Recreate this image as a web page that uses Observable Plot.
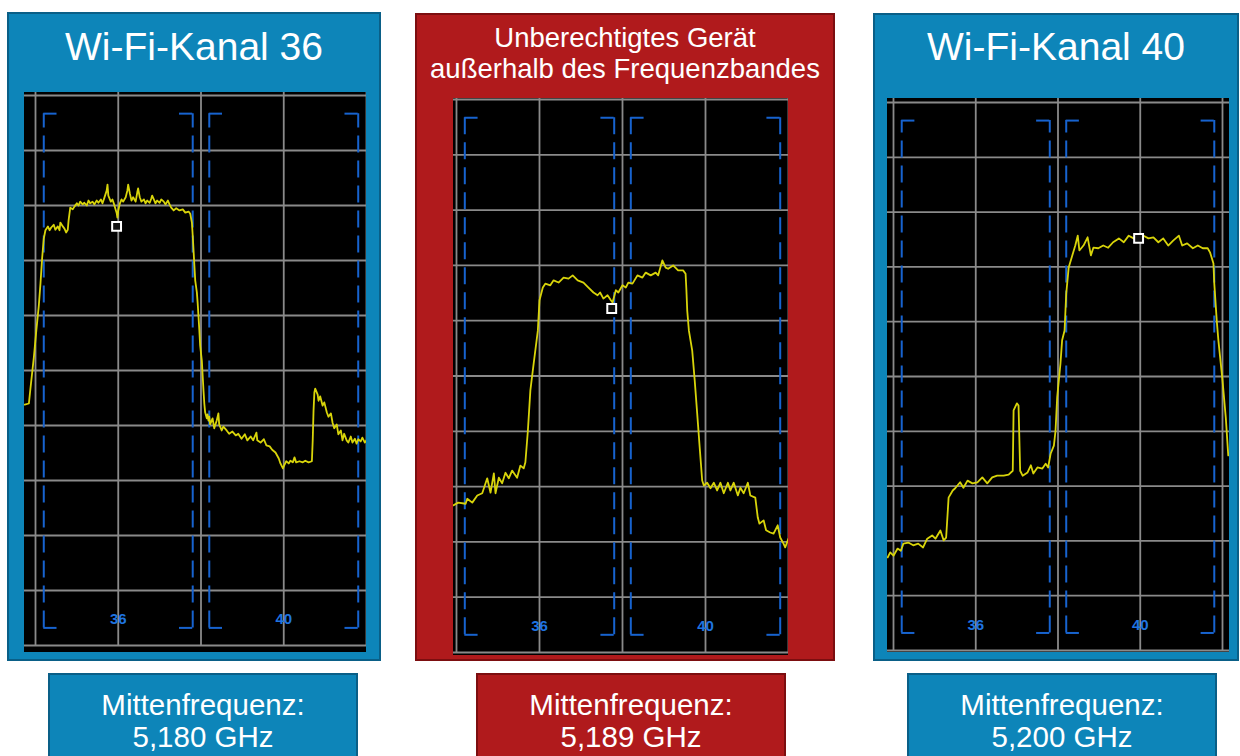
<!DOCTYPE html>
<html><head><meta charset="utf-8">
<script src="https://cdn.jsdelivr.net/npm/d3@7"></script>
<script src="https://cdn.jsdelivr.net/npm/@observablehq/plot@0.6"></script>
<style>
body{margin:0;background:#fff;width:1240px;height:756px;overflow:hidden;position:relative;font-family:"Liberation Sans",Arial,sans-serif;}
.box{position:absolute;box-sizing:border-box;}
.blue{background:#0d85b9;border:2px solid #0a5f87;}
.red{background:#b01a1c;border:2px solid #7c0e10;}
.txt{position:absolute;color:#fff;text-align:center;white-space:nowrap;}
.chart{position:absolute;}
.chart svg{display:block;}
</style></head><body>
<div class="box blue" style="left:7px;top:12px;width:374px;height:649px"></div>
<div class="box red" style="left:415px;top:13px;width:420px;height:648px"></div>
<div class="box blue" style="left:873px;top:13px;width:366px;height:648px"></div>
<div class="box blue" style="left:48px;top:673px;width:310px;height:95px"></div>
<div class="box red" style="left:476px;top:673px;width:310px;height:95px"></div>
<div class="box blue" style="left:907px;top:673px;width:310px;height:95px"></div>

<div class="txt" style="left:7px;width:374px;top:27px;font-size:39px;line-height:39px">Wi-Fi-Kanal 36</div>
<div class="txt" style="left:415px;width:420px;top:22px;font-size:27.5px;line-height:31px">Unberechtigtes Gerät<br>außerhalb des Frequenzbandes</div>
<div class="txt" style="left:873px;width:366px;top:27px;font-size:39px;line-height:39px">Wi-Fi-Kanal 40</div>
<div class="txt" style="left:48px;width:310px;top:689px;font-size:29.5px;line-height:32px">Mittenfrequenz:<br>5,180 GHz</div>
<div class="txt" style="left:476px;width:310px;top:689px;font-size:29.5px;line-height:32px">Mittenfrequenz:<br>5,189 GHz</div>
<div class="txt" style="left:907px;width:310px;top:689px;font-size:29.5px;line-height:32px">Mittenfrequenz:<br>5,200 GHz</div>

<div id="c1" class="chart" style="left:24px;top:92px"></div>
<div id="c2" class="chart" style="left:453px;top:98px"></div>
<div id="c3" class="chart" style="left:887px;top:98px"></div>

<script>
// Frequency grid (MHz) and level grid (dBm, 10 dB/div)
const freqTicks = [5170, 5180, 5190, 5200, 5210];
const levelTicks = [-20, -30, -40, -50, -60, -70, -80, -90, -100, -110, -120];
// Wi-Fi channels shown in each display
const channelNames = ["36", "40"];
const channelCenters = [5180, 5200];
const channelHalfWidth = 9;

// Spectrum traces [frequency MHz, level dBm]
const spec36 = [
[5168.7,-76.2],[5169.2,-76.0],[5169.4,-73.1],[5169.8,-67.6],[5170.1,-62.7],[5170.4,-58.2],[5170.6,-54.2],[5170.8,-49.6],[5171.0,-46.0],[5171.2,-44.5],
[5171.5,-43.8],[5171.7,-44.5],[5171.9,-44.0],[5172.2,-43.5],[5172.4,-44.4],[5172.7,-43.8],[5172.9,-44.5],[5173.0,-43.1],[5173.3,-43.8],[5173.5,-44.2],
[5173.7,-44.9],[5173.9,-44.4],[5174.0,-42.7],[5174.2,-40.4],[5174.5,-40.7],[5174.7,-40.2],[5175.0,-39.6],[5175.2,-40.0],[5175.4,-39.3],[5175.7,-39.8],
[5175.9,-39.5],[5176.2,-40.0],[5176.4,-39.1],[5176.6,-39.6],[5176.9,-39.3],[5177.1,-39.8],[5177.4,-39.1],[5177.6,-39.5],[5177.9,-38.9],[5178.1,-39.6],
[5178.3,-38.7],[5178.6,-37.3],[5178.7,-36.2],[5178.8,-38.2],[5179.1,-39.3],[5179.3,-38.9],[5179.5,-39.8],[5179.8,-41.3],[5179.9,-42.2],[5180.0,-40.9],
[5180.2,-39.6],[5180.4,-38.9],[5180.6,-39.3],[5180.9,-38.5],[5181.1,-37.3],[5181.2,-36.2],[5181.4,-37.8],[5181.6,-39.1],[5181.8,-38.5],[5182.1,-39.3],
[5182.3,-37.6],[5182.4,-36.9],[5182.6,-38.5],[5182.8,-39.3],[5183.1,-38.9],[5183.3,-39.6],[5183.5,-39.1],[5183.8,-39.5],[5184.0,-38.7],[5184.1,-38.2],
[5184.3,-38.9],[5184.5,-39.6],[5184.7,-39.1],[5185.0,-39.5],[5185.2,-38.9],[5185.5,-39.3],[5185.7,-39.8],[5186.0,-39.1],[5186.2,-39.8],[5186.4,-40.4],
[5186.7,-40.9],[5187.0,-40.5],[5187.4,-40.9],[5187.8,-40.7],[5188.1,-41.3],[5188.5,-41.1],[5188.7,-41.5],[5188.9,-43.1],[5189.0,-45.5],[5189.1,-48.2],
[5189.2,-50.9],[5189.3,-53.6],[5189.5,-55.8],[5189.6,-57.8],[5189.7,-60.2],[5189.8,-62.7],[5189.9,-65.5],[5190.1,-68.2],[5190.2,-70.9],[5190.3,-73.6],
[5190.4,-76.0],[5190.5,-77.6],[5190.7,-78.7],[5190.8,-78.0],[5190.9,-79.1],[5191.0,-78.4],[5191.1,-79.8],[5191.4,-78.7],[5191.6,-80.5],[5191.9,-79.1],
[5192.1,-77.8],[5192.2,-79.8],[5192.5,-80.9],[5192.7,-80.2],[5193.1,-80.9],[5193.4,-81.5],[5193.8,-81.1],[5194.2,-81.8],[5194.5,-81.5],[5194.9,-82.4],
[5195.3,-81.6],[5195.6,-82.7],[5196.0,-82.0],[5196.3,-82.7],[5196.7,-81.3],[5196.8,-82.7],[5197.2,-83.1],[5197.6,-82.5],[5197.9,-83.6],[5198.3,-83.8],
[5198.6,-84.4],[5199.0,-84.9],[5199.4,-86.0],[5199.6,-86.9],[5199.9,-87.8],[5200.1,-87.1],[5200.3,-86.5],[5200.6,-86.9],[5200.8,-86.4],[5201.1,-86.7],
[5201.3,-85.8],[5201.5,-86.7],[5201.9,-86.5],[5202.3,-86.7],[5202.6,-86.4],[5203.0,-86.7],[5203.4,-86.5],[5203.5,-82.7],[5203.6,-77.3],[5203.7,-74.0],
[5203.8,-73.3],[5204.1,-74.4],[5204.2,-75.5],[5204.4,-74.7],[5204.7,-76.4],[5204.9,-75.8],[5205.2,-77.6],[5205.4,-78.4],[5205.7,-77.8],[5205.9,-79.5],
[5206.1,-80.5],[5206.4,-79.8],[5206.6,-81.6],[5206.9,-80.9],[5207.1,-82.7],[5207.3,-81.5],[5207.6,-82.7],[5207.8,-83.1],[5208.1,-82.0],[5208.3,-83.1],
[5208.6,-82.4],[5208.8,-83.3],[5209.0,-82.5],[5209.3,-82.9],[5209.5,-82.2],[5209.8,-83.1],[5210.0,-82.7]
];
const specRogue = [
[5169.6,-93.4],[5170.2,-92.9],[5171.1,-93.1],[5171.3,-92.2],[5171.9,-92.9],[5172.5,-91.6],[5173.1,-91.2],[5173.7,-88.5],[5174.1,-91.1],[5174.5,-87.6],
[5174.7,-91.2],[5175.1,-88.4],[5175.5,-89.4],[5175.9,-87.5],[5176.3,-88.5],[5176.7,-87.1],[5177.3,-88.4],[5177.7,-86.2],[5178.1,-86.7],[5178.3,-85.6],
[5178.6,-79.9],[5178.9,-72.6],[5179.3,-67.7],[5179.8,-61.8],[5180.0,-56.3],[5180.4,-54.0],[5180.7,-53.3],[5181.3,-53.6],[5181.7,-52.7],[5182.3,-53.1],
[5182.9,-52.2],[5183.5,-52.4],[5184.0,-51.8],[5184.6,-52.7],[5185.3,-53.1],[5185.9,-54.0],[5186.5,-54.9],[5187.0,-55.4],[5187.3,-54.9],[5187.7,-56.0],
[5188.2,-55.4],[5188.6,-56.3],[5188.8,-56.7],[5189.2,-54.5],[5189.5,-54.9],[5190.0,-53.6],[5190.4,-54.0],[5190.7,-53.1],[5191.2,-53.3],[5191.8,-51.8],
[5192.4,-52.2],[5192.8,-51.3],[5193.4,-51.8],[5194.0,-51.3],[5194.3,-51.8],[5194.8,-49.1],[5195.2,-50.4],[5195.5,-50.6],[5196.1,-50.0],[5196.7,-50.9],
[5197.3,-50.9],[5197.6,-51.5],[5197.7,-54.5],[5197.8,-58.2],[5198.0,-61.8],[5198.4,-65.4],[5198.7,-70.8],[5199.0,-76.8],[5199.3,-82.9],[5199.6,-88.9],
[5199.8,-89.8],[5200.2,-89.3],[5200.6,-90.3],[5201.0,-89.3],[5201.4,-90.7],[5201.8,-89.3],[5202.2,-91.2],[5202.7,-89.3],[5203.0,-90.7],[5203.4,-89.3],
[5203.9,-91.6],[5204.2,-90.2],[5204.6,-91.2],[5205.1,-89.3],[5205.4,-91.6],[5206.0,-92.0],[5206.3,-95.6],[5206.5,-96.7],[5207.0,-96.1],[5207.3,-97.9],
[5207.8,-98.3],[5208.2,-98.5],[5208.7,-97.0],[5209.0,-99.2],[5209.4,-100.3],[5209.6,-101.0],[5210.0,-99.4]
];
const spec40 = [
[5169.3,-103.0],[5169.6,-102.1],[5170.0,-102.7],[5170.5,-101.4],[5170.9,-101.8],[5171.2,-100.5],[5171.8,-100.3],[5172.4,-100.8],[5173.0,-100.5],[5173.6,-101.2],
[5174.1,-99.6],[5174.7,-99.0],[5175.1,-99.6],[5175.7,-98.1],[5176.1,-99.9],[5176.4,-99.4],[5176.7,-92.1],[5177.2,-90.8],[5177.5,-90.4],[5178.1,-89.3],
[5178.5,-90.3],[5179.0,-89.0],[5179.6,-89.5],[5180.2,-89.3],[5180.8,-88.4],[5181.4,-89.5],[5182.0,-88.4],[5182.6,-88.1],[5183.4,-88.1],[5184.0,-87.9],
[5184.5,-87.2],[5184.6,-76.2],[5185.0,-74.9],[5185.2,-75.3],[5185.4,-87.2],[5185.7,-88.1],[5186.3,-87.5],[5186.7,-86.2],[5187.0,-87.7],[5187.5,-86.6],
[5188.1,-86.8],[5188.5,-85.9],[5188.8,-86.6],[5189.1,-84.1],[5189.5,-82.6],[5189.7,-79.9],[5189.9,-73.8],[5190.3,-67.6],[5190.5,-63.4],[5190.8,-61.6],
[5191.0,-54.9],[5191.3,-50.1],[5191.8,-47.6],[5192.1,-46.1],[5192.4,-44.3],[5192.6,-47.0],[5193.1,-46.1],[5193.6,-44.6],[5194.0,-47.9],[5194.3,-46.5],
[5194.9,-46.6],[5195.5,-46.1],[5196.1,-46.5],[5196.7,-45.5],[5197.4,-44.8],[5198.0,-45.5],[5198.6,-44.3],[5199.2,-44.8],[5199.8,-44.6],[5200.4,-44.3],
[5201.0,-44.8],[5201.6,-44.6],[5202.2,-45.5],[5202.8,-44.8],[5203.4,-46.1],[5204.0,-45.2],[5204.7,-44.3],[5205.1,-46.1],[5205.7,-45.7],[5206.4,-46.6],
[5207.0,-46.1],[5207.6,-46.6],[5208.2,-46.6],[5208.5,-47.4],[5208.9,-49.4],[5209.0,-53.0],[5209.3,-59.8],[5209.5,-63.4],[5210.0,-70.7],[5210.4,-77.5],
[5210.7,-84.4]
];
// Marker positions [frequency MHz, level dBm]
const marker36 = [5179.8, -43.8];
const markerRogue = [5188.7, -57.8];
const marker40 = [5199.8, -44.8];

const gridColor = "#8a8a8a";
const bracketColor = "#1763cf";
const labelColor = "#1f74e0";
const traceColor = "#d8d40a";

function spectrumPanel(spec, marker, cfg) {
  const bracketTop = -23.3, bracketBottom = -116.8, labelLevel = -115.3, corner = 1.6;
  const edges = channelCenters.flatMap(c => [c - channelHalfWidth, c + channelHalfWidth]);
  const corners = channelCenters.flatMap(c => [
    {x1: c - channelHalfWidth, x2: c - channelHalfWidth + corner},
    {x1: c + channelHalfWidth - corner, x2: c + channelHalfWidth}
  ]).flatMap(d => [{...d, y: bracketTop}, {...d, y: bracketBottom}]);
  const labels = channelNames.map((name, i) => ({name, f: channelCenters[i]}));
  return Plot.plot({
    width: cfg.w, height: cfg.h,
    marginLeft: cfg.ml, marginRight: cfg.mr, marginTop: cfg.mt, marginBottom: cfg.mb,
    x: {domain: [5170, 5210], axis: null},
    y: {domain: [-120, -20], axis: null},
    style: {background: "#000"},
    marks: [
      Plot.ruleY(levelTicks, {stroke: gridColor, strokeWidth: 1.8, insetLeft: -cfg.ml, insetRight: -cfg.mr}),
      Plot.ruleX(freqTicks, {stroke: gridColor, strokeWidth: 1.8, insetTop: -cfg.mt}),
      Plot.ruleX(edges, {y1: bracketBottom, y2: bracketTop, stroke: bracketColor, strokeWidth: 2, strokeDasharray: "17,8"}),
      Plot.ruleY(corners, {x1: "x1", x2: "x2", y: "y", stroke: bracketColor, strokeWidth: 2}),
      Plot.text(labels, {x: "f", y: labelLevel, text: "name", fill: labelColor, fontSize: 15, fontWeight: "bold", fontFamily: "Liberation Sans, Arial, sans-serif"}),
      Plot.line(spec, {x: d => d[0], y: d => d[1], stroke: traceColor, strokeWidth: 1.8}),
      Plot.dot([marker], {x: d => d[0], y: d => d[1], symbol: "square", r: 5, stroke: "#fff", strokeWidth: 2, fill: "#111"})
    ]
  });
}

document.getElementById("c1").append(spectrumPanel(spec36, marker36, {w: 342, h: 560, ml: 11, mr: 0, mt: 3, mb: 7}));
document.getElementById("c2").append(spectrumPanel(specRogue, markerRogue, {w: 335, h: 557, ml: 3, mr: 0, mt: 1, mb: 3}));
document.getElementById("c3").append(spectrumPanel(spec40, marker40, {w: 342, h: 554, ml: 6, mr: 7, mt: 4, mb: 2}));
</script>
</body></html>
